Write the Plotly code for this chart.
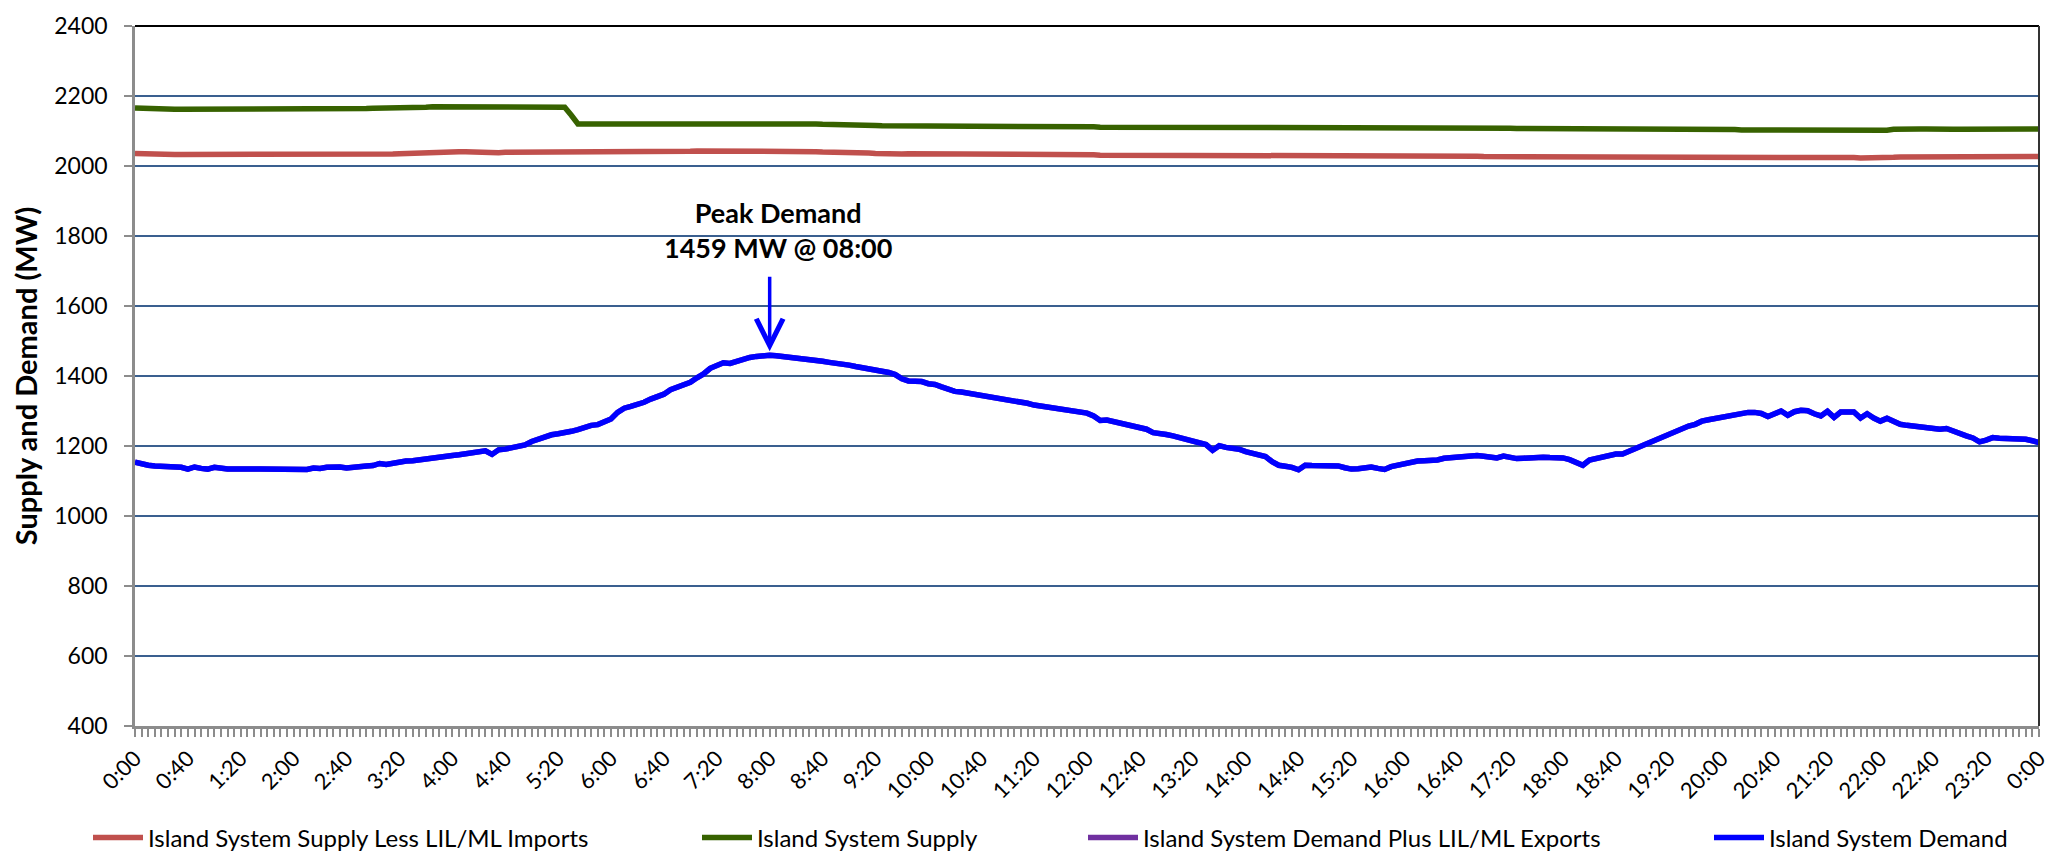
import plotly.graph_objects as go

# 5-minute intervals, 0:00 .. 24:00 (289 points)
interval_minutes = list(range(0, 1441, 5))
tick_labels = ["0:00", "0:40", "1:20", "2:00", "2:40", "3:20", "4:00", "4:40", "5:20",
               "6:00", "6:40", "7:20", "8:00", "8:40", "9:20", "10:00", "10:40", "11:20",
               "12:00", "12:40", "13:20", "14:00", "14:40", "15:20", "16:00", "16:40",
               "17:20", "18:00", "18:40", "19:20", "20:00", "20:40", "21:20", "22:00",
               "22:40", "23:20", "0:00"]
tick_minutes = list(range(0, 1441, 40))

supply_less_imports = [
    2036, 2035, 2034, 2033, 2033, 2033, 2033, 2033, 2033, 2032, 2032, 2032,
    2032, 2031, 2031, 2031, 2031, 2031, 2031, 2031, 2032, 2032, 2032, 2031,
    2031, 2031, 2032, 2032, 2032, 2032, 2032, 2032, 2032, 2033, 2033, 2033,
    2033, 2033, 2034, 2034, 2035, 2036, 2037, 2038, 2039, 2040, 2041, 2041,
    2041, 2041, 2041, 2040, 2040, 2039, 2039, 2038, 2039, 2039, 2040, 2040,
    2040, 2040, 2041, 2041, 2041, 2040, 2040, 2040, 2040, 2040, 2040, 2040,
    2040, 2040, 2040, 2040, 2040, 2040, 2041, 2041, 2041, 2041, 2042, 2042,
    2042, 2043, 2043, 2043, 2044, 2043, 2043, 2042, 2041, 2041, 2042, 2042,
    2043, 2043, 2043, 2042, 2042, 2041, 2041, 2041, 2040, 2040, 2039, 2039,
    2039, 2038, 2038, 2037, 2036, 2035, 2035, 2034, 2034, 2035, 2035, 2035,
    2035, 2035, 2034, 2034, 2034, 2034, 2033, 2033, 2033, 2033, 2032, 2032,
    2032, 2032, 2032, 2032, 2032, 2032, 2033, 2033, 2033, 2033, 2033, 2032,
    2032, 2032, 2031, 2031, 2031, 2031, 2031, 2031, 2031, 2031, 2030, 2030,
    2030, 2031, 2031, 2031, 2031, 2031, 2030, 2030, 2030, 2030, 2029, 2029,
    2029, 2029, 2029, 2030, 2030, 2030, 2030, 2029, 2029, 2029, 2029, 2029,
    2029, 2029, 2029, 2029, 2029, 2029, 2029, 2029, 2029, 2028, 2028, 2028,
    2028, 2028, 2028, 2028, 2028, 2028, 2028, 2028, 2028, 2028, 2028, 2028,
    2027, 2027, 2027, 2027, 2027, 2027, 2027, 2027, 2027, 2027, 2027, 2027,
    2027, 2027, 2027, 2027, 2026, 2026, 2026, 2026, 2026, 2025, 2025, 2025,
    2024, 2024, 2024, 2024, 2024, 2024, 2024, 2024, 2024, 2024, 2024, 2024,
    2024, 2024, 2024, 2024, 2024, 2024, 2024, 2024, 2024, 2024, 2024, 2024,
    2024, 2024, 2024, 2024, 2024, 2024, 2024, 2024, 2024, 2023, 2023, 2022,
    2022, 2023, 2025, 2026, 2026, 2026, 2026, 2026, 2026, 2026, 2026, 2026,
    2026, 2026, 2027, 2027, 2027, 2027, 2027, 2027, 2027, 2027, 2027, 2027,
    2027]

island_supply = [
    2166, 2165, 2163, 2162, 2162, 2162, 2162, 2162, 2162, 2162, 2162, 2161,
    2161, 2161, 2161, 2161, 2161, 2161, 2161, 2161, 2162, 2162, 2161, 2161,
    2161, 2162, 2162, 2162, 2162, 2163, 2163, 2163, 2163, 2164, 2164, 2164,
    2165, 2165, 2165, 2166, 2166, 2166, 2167, 2167, 2168, 2169, 2169, 2170,
    2170, 2170, 2170, 2170, 2170, 2169, 2168, 2168, 2168, 2169, 2168, 2168,
    2168, 2169, 2169, 2170, 2170, 2168, 2145, 2120, 2120, 2120, 2120, 2120,
    2120, 2120, 2121, 2121, 2120, 2120, 2120, 2120, 2120, 2120, 2120, 2121,
    2121, 2122, 2122, 2123, 2122, 2122, 2121, 2121, 2120, 2120, 2121, 2122,
    2122, 2122, 2122, 2121, 2121, 2120, 2120, 2120, 2119, 2119, 2119, 2119,
    2118, 2118, 2118, 2117, 2116, 2115, 2115, 2114, 2114, 2115, 2115, 2115,
    2115, 2115, 2114, 2114, 2114, 2114, 2113, 2113, 2113, 2112, 2112, 2112,
    2112, 2112, 2112, 2112, 2112, 2112, 2113, 2113, 2113, 2113, 2113, 2112,
    2112, 2112, 2111, 2111, 2111, 2111, 2111, 2111, 2111, 2111, 2110, 2110,
    2110, 2111, 2111, 2111, 2111, 2111, 2110, 2110, 2110, 2110, 2110, 2110,
    2110, 2110, 2110, 2110, 2110, 2110, 2110, 2109, 2109, 2109, 2110, 2110,
    2109, 2109, 2109, 2109, 2109, 2109, 2109, 2109, 2109, 2109, 2109, 2109,
    2109, 2109, 2108, 2108, 2108, 2108, 2108, 2108, 2108, 2108, 2108, 2108,
    2108, 2108, 2108, 2108, 2108, 2107, 2107, 2107, 2107, 2107, 2107, 2107,
    2107, 2107, 2107, 2107, 2107, 2107, 2107, 2106, 2106, 2106, 2105, 2105,
    2104, 2104, 2104, 2104, 2104, 2104, 2104, 2104, 2104, 2104, 2104, 2104,
    2104, 2104, 2104, 2103, 2103, 2103, 2104, 2104, 2104, 2104, 2104, 2104,
    2104, 2104, 2103, 2103, 2103, 2103, 2104, 2104, 2104, 2104, 2103, 2102,
    2101, 2102, 2105, 2106, 2106, 2106, 2106, 2106, 2105, 2105, 2105, 2105,
    2105, 2105, 2106, 2106, 2106, 2106, 2106, 2106, 2106, 2106, 2106, 2106,
    2106]

island_demand = [
    1154, 1148, 1145, 1143, 1142, 1141, 1140, 1139, 1134, 1140, 1136, 1134,
    1139, 1136, 1134, 1134, 1133, 1133, 1134, 1134, 1134, 1134, 1133, 1133,
    1134, 1133, 1133, 1137, 1136, 1139, 1140, 1140, 1137, 1140, 1143, 1143,
    1144, 1150, 1147, 1151, 1154, 1157, 1158, 1161, 1164, 1166, 1168, 1170,
    1173, 1175, 1178, 1181, 1186, 1186, 1176, 1189, 1191, 1195, 1200, 1203,
    1213, 1220, 1226, 1232, 1235, 1237, 1242, 1247, 1254, 1259, 1261, 1268,
    1277, 1296, 1308, 1313, 1318, 1325, 1334, 1342, 1348, 1361, 1369, 1374,
    1382, 1395, 1406, 1422, 1431, 1438, 1436, 1443, 1448, 1453, 1456, 1458,
    1459, 1458, 1456, 1455, 1453, 1450, 1447, 1445, 1442, 1439, 1437, 1436,
    1431, 1427, 1424, 1420, 1416, 1413, 1410, 1404, 1392, 1386, 1386, 1384,
    1378, 1376, 1369, 1362, 1356, 1354, 1351, 1348, 1343, 1339, 1336, 1335,
    1331, 1329, 1325, 1322, 1317, 1314, 1311, 1310, 1307, 1304, 1301, 1297,
    1294, 1286, 1273, 1274, 1270, 1267, 1262, 1257, 1256, 1248, 1238, 1237,
    1233, 1229, 1224, 1219, 1215, 1210, 1204, 1188, 1201, 1196, 1194, 1191,
    1184, 1179, 1176, 1170, 1155, 1145, 1142, 1139, 1132, 1145, 1144, 1143,
    1143, 1143, 1143, 1138, 1134, 1135, 1139, 1140, 1136, 1133, 1141, 1146,
    1150, 1155, 1157, 1158, 1159, 1160, 1165, 1167, 1169, 1170, 1173, 1173,
    1171, 1168, 1166, 1171, 1168, 1164, 1165, 1167, 1167, 1168, 1167, 1168,
    1166, 1161, 1154, 1145, 1160, 1164, 1168, 1176, 1177, 1177, 1185, 1195,
    1202, 1210, 1217, 1224, 1233, 1242, 1251, 1257, 1262, 1271, 1275, 1279,
    1283, 1287, 1289, 1292, 1296, 1296, 1293, 1284, 1292, 1300, 1288, 1298,
    1302, 1301, 1292, 1286, 1299, 1282, 1297, 1297, 1297, 1280, 1292, 1280,
    1271, 1279, 1269, 1262, 1259, 1257, 1254, 1251, 1249, 1248, 1250, 1242,
    1234, 1229, 1223, 1212, 1217, 1224, 1222, 1221, 1221, 1221, 1219, 1215,
    1210]

# Demand plus exports coincides with demand (hidden beneath it in the original)
demand_plus_exports = island_demand

peak_minute = 480
peak_value = 1459

FONT = "Lato"
GRID = "#3A5F8F"
AXIS_GRAY = "#8C8C8C"

# The page body has an 8px margin, so the figure is sized to fit the window.
W, H = 2046, 844
PL, PR, PT, PB = 127, 15, 18, 126
PW = W - PL - PR
PH = H - PT - PB

def px_to_paper_x(px):      # px measured in figure coordinates
    return (px - PL) / PW

def px_to_paper_y(py):
    return (H - PB - py) / PH

fig = go.Figure()
fig.add_trace(go.Scatter(x=interval_minutes, y=supply_less_imports, mode="lines",
                         name="Island System Supply Less LIL/ML Imports",
                         line=dict(color="#C0504D", width=5.5), legend="legend"))
fig.add_trace(go.Scatter(x=interval_minutes, y=island_supply, mode="lines",
                         name="Island System Supply",
                         line=dict(color="#376200", width=5.5), legend="legend2"))
fig.add_trace(go.Scatter(x=interval_minutes, y=demand_plus_exports, mode="lines",
                         name="Island System Demand Plus LIL/ML Exports",
                         line=dict(color="#7030A0", width=5.5), legend="legend3"))
fig.add_trace(go.Scatter(x=interval_minutes, y=island_demand, mode="lines",
                         name="Island System Demand",
                         line=dict(color="#0000FF", width=5.5), legend="legend4"))

# arrow
fig.add_annotation(x=peak_minute, y=peak_value, xref="x", yref="y", text="",
                   showarrow=True, ax=0, ay=-80, arrowhead=5, arrowsize=1.5,
                   arrowwidth=3.5, arrowcolor="#0000FF", standoff=4)
# label
fig.add_annotation(x=peak_minute, y=1817, xref="x", yref="y", xshift=8,
                   text="<b>Peak Demand</b><br><b>1459 MW @ 08:00</b>",
                   showarrow=False, yanchor="middle", xanchor="center",
                   font=dict(family=FONT, size=27, color="black"))

# top and right plot border
fig.add_shape(type="line", xref="paper", yref="paper", x0=0, x1=1, y0=1, y1=1,
              line=dict(color="black", width=2))
fig.add_shape(type="line", xref="paper", yref="paper", x0=1, x1=1, y0=0, y1=1,
              line=dict(color="#333333", width=2))

legend_font = dict(family=FONT, size=24, color="black")
legend_common = dict(orientation="h", y=px_to_paper_y(830), yanchor="middle",
                     xanchor="left", font=legend_font, bgcolor="rgba(0,0,0,0)",
                     itemwidth=50)
legend_line_starts = [88, 697, 1083, 1709]   # figure px

fig.update_layout(
    width=W, height=H,
    margin=dict(l=PL, r=PR, t=PT, b=PB, autoexpand=False),
    paper_bgcolor="white", plot_bgcolor="white",
    font=dict(family=FONT, size=22, color="black"),
    showlegend=True,
    legend=dict(x=px_to_paper_x(legend_line_starts[0] - 8), **legend_common),
    legend2=dict(x=px_to_paper_x(legend_line_starts[1] - 8), **legend_common),
    legend3=dict(x=px_to_paper_x(legend_line_starts[2] - 8), **legend_common),
    legend4=dict(x=px_to_paper_x(legend_line_starts[3] - 8), **legend_common),
    xaxis=dict(range=[0, 1440], tickmode="array", tickvals=tick_minutes,
               ticktext=tick_labels, tickangle=-45, showgrid=False,
               showline=True, linecolor=AXIS_GRAY, linewidth=2.5,
               ticks="outside", ticklen=8, tickwidth=1.5, tickcolor=AXIS_GRAY,
               tickfont=dict(family=FONT, size=22), automargin=False,
               minor=dict(dtick=5, tick0=0, ticks="outside", ticklen=8,
                          tickwidth=1.5, tickcolor=AXIS_GRAY, showgrid=False),
               zeroline=False),
    yaxis=dict(range=[400, 2400], dtick=200, tick0=400, showgrid=True,
               gridcolor=GRID, gridwidth=1.5, showline=True, linecolor=AXIS_GRAY,
               linewidth=2.5, ticks="outside", ticklen=8, tickwidth=1.5,
               tickcolor=AXIS_GRAY, tickfont=dict(family=FONT, size=23),
               ticklabelstandoff=12, automargin=False,
               zeroline=False,
               title=dict(text="<b>Supply and Demand (MW)</b>", standoff=14,
                          font=dict(family=FONT, size=29))),
)

fig.write_html("out.html")
